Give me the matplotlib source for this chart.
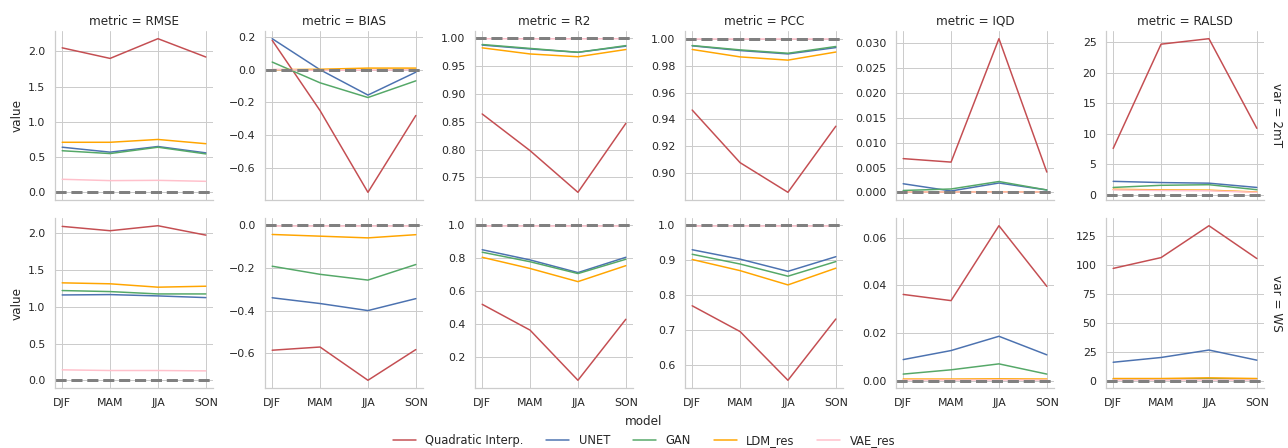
import matplotlib
matplotlib.use("Agg")
import matplotlib.pyplot as plt
import seaborn as sns

sns.set_theme(style="whitegrid", context="notebook")
plt.rcParams['font.family'] = ['DejaVu Sans']

seasons = ["DJF", "MAM", "JJA", "SON"]
models = ["Quadratic Interp.", "UNET", "GAN", "LDM_res", "VAE_res"]
colors = ["#C44E52", "#4C72B0", "#55A868", "orange", "pink"]
metrics = ["RMSE", "BIAS", "R2", "PCC", "IQD", "RALSD"]
variables = ["2mT", "WS"]
ideal = [0, 0, 1, 1, 0, 0]

# values per panel, rows in model order
rmse_2mT = [[2.05, 1.90, 2.18, 1.92], [0.64, 0.57, 0.65, 0.56], [0.59, 0.55, 0.64, 0.545],
            [0.71, 0.71, 0.75, 0.69], [0.185, 0.166, 0.17, 0.156]]
bias_2mT = [[0.18, -0.25, -0.75, -0.28], [0.19, 0.0, -0.155, -0.015], [0.047, -0.08, -0.17, -0.068],
            [0.0, 0.003, 0.01, 0.01], [0.002, -0.004, -0.002, 0.0]]
r2_2mT = [[0.864, 0.798, 0.723, 0.847], [0.988, 0.981, 0.975, 0.986], [0.989, 0.982, 0.975, 0.987],
          [0.983, 0.972, 0.967, 0.980], [0.9995, 0.9993, 0.9993, 0.9995]]
pcc_2mT = [[0.947, 0.908, 0.886, 0.935], [0.9946, 0.9911, 0.9886, 0.9933], [0.9948, 0.9916, 0.9891, 0.9941],
           [0.9919, 0.9864, 0.984, 0.990], [0.9999, 0.9999, 0.9999, 0.9999]]
iqd_2mT = [[0.0068, 0.0061, 0.0309, 0.0041], [0.00175, 0.0003, 0.0019, 0.0005], [0.0004, 0.0007, 0.0022, 0.0005],
           [0.0001, 0.0001, 0.00015, 0.0001], [0.00003, 0.00003, 0.00003, 0.00003]]
ralsd_2mT = [[7.6, 24.7, 25.6, 10.9], [2.2, 2.0, 1.9, 1.2], [1.2, 1.55, 1.65, 0.83],
             [0.9, 0.8, 0.75, 0.45], [0.8, 0.7, 0.65, 0.4]]

rmse_WS = [[2.096, 2.037, 2.105, 1.977], [1.162, 1.167, 1.149, 1.126], [1.222, 1.208, 1.176, 1.176],
           [1.327, 1.314, 1.268, 1.281], [0.142, 0.133, 0.133, 0.128]]
bias_WS = [[-0.586, -0.571, -0.727, -0.583], [-0.340, -0.367, -0.400, -0.344], [-0.192, -0.230, -0.257, -0.184],
           [-0.043, -0.051, -0.059, -0.044], [-0.002, -0.002, -0.002, -0.002]]
r2_WS = [[0.520, 0.363, 0.058, 0.429], [0.852, 0.790, 0.713, 0.806], [0.837, 0.779, 0.707, 0.794],
         [0.806, 0.738, 0.658, 0.755], [0.998, 0.998, 0.998, 0.998]]
pcc_WS = [[0.769, 0.695, 0.555, 0.731], [0.930, 0.903, 0.868, 0.910], [0.917, 0.889, 0.854, 0.896],
          [0.902, 0.870, 0.829, 0.877], [0.999, 0.999, 0.999, 0.999]]
iqd_WS = [[0.0362, 0.0336, 0.0651, 0.0396], [0.0088, 0.0126, 0.0186, 0.0108], [0.0027, 0.0045, 0.0070, 0.0027],
          [0.0006, 0.0006, 0.0007, 0.0006], [0.0001, 0.0001, 0.0001, 0.0001]]
ralsd_WS = [[97.0, 106.3, 133.7, 105.5], [16.3, 20.4, 26.8, 18.1], [1.8, 1.9, 2.2, 1.8],
            [2.3, 2.3, 2.9, 2.3], [0.8, 0.8, 0.8, 0.8]]

panels = [
    [rmse_2mT, bias_2mT, r2_2mT, pcc_2mT, iqd_2mT, ralsd_2mT],
    [rmse_WS, bias_WS, r2_WS, pcc_WS, iqd_WS, ralsd_WS],
]

W, H = 1288, 448
DPI = 72
fig = plt.figure(figsize=(W / DPI, H / DPI), dpi=DPI)

lefts = [55, 265, 475, 685, 896, 1106]
aw = 158
rows_px = [(31, 200), (218, 388)]

xs = list(range(len(seasons)))
handles = []
for r, var in enumerate(variables):
    top, bot = rows_px[r]
    for c, met in enumerate(metrics):
        ax = fig.add_axes([lefts[c] / W, 1 - bot / H, aw / W, (bot - top) / H])
        data = panels[r][c]
        for m, (name, col) in enumerate(zip(models, colors)):
            ln, = ax.plot(xs, data[m], color=col, lw=1.5, label=name)
            if r == 0 and c == 0:
                handles.append(ln)
        ax.axhline(ideal[c], color="gray", ls="--", lw=3)
        ax.set_xticks(xs)
        if r == 1:
            ax.set_xticklabels(seasons)
        else:
            ax.set_xticklabels([])
        for s in ["top", "right"]:
            ax.spines[s].set_visible(False)
        if r == 0:
            ax.set_title(f"metric = {met}", fontsize=12)
        if c == 0:
            ax.set_ylabel("value", fontsize=12)
        if c == len(metrics) - 1:
            ax.text(1.04, 0.5, f"var = {var}", transform=ax.transAxes, rotation=270,
                    va="center", ha="left", fontsize=12, color=".15")

fig.legend(handles, models, loc="center", bbox_to_anchor=(0.5, 1 - 431 / H), ncol=5,
           frameon=False, title="model", fontsize=11.5, title_fontsize=12,
           columnspacing=2.0, handlelength=2.0)

fig.savefig("out.png", dpi=DPI)
